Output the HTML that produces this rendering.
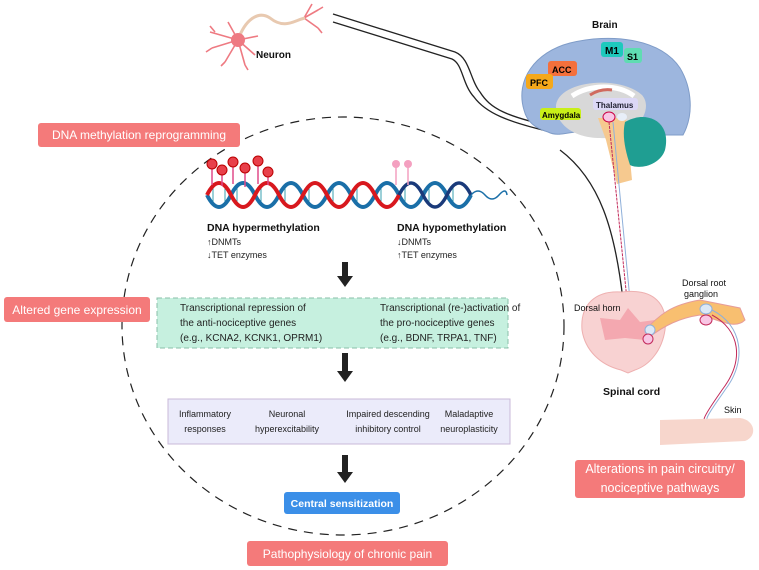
<!DOCTYPE html>
<html><head><meta charset="utf-8"><style>
html,body{margin:0;padding:0;background:#fff}
body{width:759px;height:570px;overflow:hidden;position:relative;font-family:"Liberation Sans",sans-serif}
svg{position:absolute;left:0;top:0}
.lbl{position:absolute;background:#f47a7a;color:#fff;border-radius:3px;font-size:12px;text-align:center;display:flex;align-items:center;justify-content:center}
</style></head><body>
<svg width="759" height="570" viewBox="0 0 759 570" xmlns="http://www.w3.org/2000/svg" font-family="Liberation Sans, sans-serif">
<ellipse cx="343" cy="326" rx="221" ry="209" fill="none" stroke="#222" stroke-width="1.2" stroke-dasharray="9,7"/>
<path d="M333,14 L455,52 C470,58 470,80 480,92 C490,108 505,117 560,128" fill="none" stroke="#222" stroke-width="1.3"/>
<path d="M333,22 L452,59 C463,64 462,84 474,97 C485,112 505,122 560,134" fill="none" stroke="#222" stroke-width="1.3"/>
<path d="M560,150 C600,180 615,230 623,300" fill="none" stroke="#222" stroke-width="1.3"/>
<g stroke="#ee7a82" stroke-width="1.6" fill="none">
<path d="M238,40 L210,32 M238,40 L212,48 M238,40 L225,62 M238,40 L245,65 M238,40 L255,55 M238,40 L228,22 M238,40 L258,36 M215,32 l-5,-6 M212,48 l-6,4 M225,62 l-4,4 M245,65 l3,5"/>
<path d="M304,18 L318,10 M304,18 L318,28 M304,18 L312,4 M318,10 l5,-3 M318,28 l4,5" />
</g>
<path d="M238,40 C245,20 258,10 270,18 C285,30 295,20 305,18" fill="none" stroke="#e8c9b0" stroke-width="3"/>
<circle cx="238" cy="40" r="7" fill="#ee7a82"/>
<text x="256" y="58" font-size="10" font-weight="bold" fill="#111">Neuron</text>
<text x="592" y="28" font-size="10" font-weight="bold" fill="#111">Brain</text>
<path d="M524,110 C515,80 535,52 570,43 C610,33 660,38 680,68 C692,88 694,115 683,135 L650,135 L600,130 C570,130 560,138 548,132 C535,128 527,122 524,110Z" fill="#9db6de" stroke="#7f9cc8"/>
<path d="M556,105 C560,80 620,75 642,95 C655,110 635,140 600,138 C575,138 555,125 556,105Z" fill="#d8d8d8"/>
<path d="M572,96 C590,84 618,84 634,96" fill="none" stroke="#fff" stroke-width="5"/>
<path d="M590,95 C598,90 605,89 612,90" fill="none" stroke="#d06a5e" stroke-width="3"/>
<path d="M598,118 L626,118 L632,180 L617,184 L606,140Z" fill="#f6c98f"/>
<path d="M625,122 C645,110 672,120 665,150 C660,165 640,170 630,165 C625,150 622,135 625,122Z" fill="#1f9e92"/>
<ellipse cx="609" cy="117" rx="6" ry="5" fill="#f8c6e4" stroke="#c04"/>
<ellipse cx="622" cy="117" rx="5" ry="4" fill="#e8eef8"/>
<rect x="601" y="42" width="22" height="15" rx="3" fill="#1ec9bd"/><text x="605" y="54" font-size="10" font-weight="bold">M1</text>
<rect x="624" y="48" width="18" height="15" rx="3" fill="#5fdcb2"/><text x="627" y="60" font-size="9" font-weight="bold">S1</text>
<rect x="548" y="61" width="29" height="15" rx="3" fill="#f4703c"/><text x="552" y="73" font-size="9" font-weight="bold">ACC</text>
<rect x="526" y="74" width="27" height="15" rx="3" fill="#f5a81a"/><text x="530" y="86" font-size="9" font-weight="bold">PFC</text>
<rect x="540" y="108" width="41" height="12" rx="3" fill="#c9ef18"/><text x="542" y="118" font-size="8" font-weight="bold">Amygdala</text>
<rect x="593" y="98" width="45" height="12" rx="3" fill="#dcd8f6"/><text x="596" y="108" font-size="8" font-weight="bold" fill="#223">Thalamus</text>
<path d="M609,122 L627,300 C628,310 628,315 632,322" fill="none" stroke="#c22a5a" stroke-width="1" stroke-dasharray="3,1"/>
<path d="M613,122 L630,300 C631,310 635,312 642,318" fill="none" stroke="#8fb0da" stroke-width="1"/>
<path d="M622,292 C655,288 668,305 665,330 C662,350 650,365 635,370 L628,373 L621,370 C600,365 585,350 582,330 C580,305 595,290 622,292Z" fill="#f8d2d2" stroke="#eeb0b0"/>
<path d="M600,318 L620,320 L628,308 L640,322 L655,320 L645,340 L625,338 L605,340Z" fill="#f4a8b0"/>
<path d="M645,330 C660,315 670,305 700,300 L740,308 L745,320 C735,330 720,320 700,315 C680,318 665,325 648,338" fill="#f8bf70" stroke="#e69c9a"/>
<ellipse cx="706" cy="309" rx="6" ry="5" fill="#dce8f6" stroke="#8fb0da"/>
<ellipse cx="706" cy="320" rx="6" ry="5" fill="#f8c6e4" stroke="#c22a5a"/>
<circle cx="650" cy="330" r="5" fill="#dce8f6" stroke="#8fb0da"/>
<circle cx="648" cy="339" r="5" fill="#f8c6e4" stroke="#c22a5a"/>
<path d="M712,315 C740,330 745,360 722,390 C705,415 700,420 705,432" fill="none" stroke="#c22a5a" stroke-width="1"/>
<path d="M712,310 C742,325 748,360 725,390 C708,415 702,420 710,428" fill="none" stroke="#8fb0da" stroke-width="1"/>
<path d="M660,420 L740,418 C755,420 758,436 745,441 L660,445 Z" fill="#f7d6cc"/>
<text x="574" y="311" font-size="9" fill="#111">Dorsal horn</text>
<text x="682" y="286" font-size="9" fill="#111">Dorsal root</text>
<text x="684" y="297" font-size="9" fill="#111">ganglion</text>
<text x="603" y="395" font-size="10.5" font-weight="bold" fill="#111">Spinal cord</text>
<text x="724" y="413" font-size="9" fill="#111">Skin</text>
<g stroke="#3aa0b0" stroke-width="1">
<path d="M213,185v20M225,187v16M237,185v20M261,185v20M285,185v20M309,185v20M333,185v20M357,185v20M381,185v20M405,185v20M429,187v16M453,187v16"/>
</g>
<path d="M207,195 Q219,219 231,195 T255,195 T279,195 T303,195 T327,195 T351,195 T375,195 T399,195 T423,195 T447,195 T471,195" fill="none" stroke="#1a6fa8" stroke-width="4"/>
<path d="M207,195 Q219,171 231,195 T255,195 T279,195 T303,195 T327,195 T351,195 T375,195 T399,195" fill="none" stroke="#d8181e" stroke-width="4"/>
<path d="M399,195 Q411,171 423,195 T447,195 T471,195" fill="none" stroke="#1a3a7a" stroke-width="3.5"/>
<path d="M471,195 Q478,187 485,195 T499,195 T507,195" fill="none" stroke="#1a6fa8" stroke-width="1.5"/>
<g stroke="#e04b8a" stroke-width="1.5"><path d="M212,165v20M222,172v14M233,164v20M245,169v18M258,162v22M268,173v12"/></g>
<g fill="#e8404a" stroke="#b00"><circle cx="212" cy="164" r="5"/><circle cx="222" cy="170" r="5"/><circle cx="233" cy="162" r="5"/><circle cx="245" cy="168" r="5"/><circle cx="258" cy="161" r="5"/><circle cx="268" cy="172" r="5"/></g>
<g stroke="#f4a0c0" stroke-width="1.5"><path d="M396,165v20M408,165v20"/></g>
<circle cx="396" cy="164" r="4" fill="#f4a0c0"/><circle cx="408" cy="164" r="4" fill="#f4a0c0"/>
<text x="207" y="231" font-size="10.5" font-weight="bold" fill="#111">DNA hypermethylation</text>
<text x="207" y="245" font-size="9" fill="#222">↑DNMTs</text>
<text x="207" y="258" font-size="9" fill="#222">↓TET enzymes</text>
<text x="397" y="231" font-size="10.5" font-weight="bold" fill="#111">DNA hypomethylation</text>
<text x="397" y="245" font-size="9" fill="#222">↓DNMTs</text>
<text x="397" y="258" font-size="9" fill="#222">↑TET enzymes</text>
<g fill="#222"><path d="M342,262h6v14h5l-8,11l-8,-11h5z"/><path d="M342,353h6v18h5l-8,11l-8,-11h5z"/><path d="M342,455h6v17h5l-8,11l-8,-11h5z"/></g>
<rect x="157" y="298" width="351" height="50" fill="#c6f0df" stroke="#8abfa8" stroke-dasharray="5,3"/>
<text font-size="10" fill="#222"><tspan x="180" y="311">Transcriptional repression of</tspan><tspan x="180" y="326">the anti-nociceptive genes</tspan><tspan x="180" y="341">(e.g., KCNA2, KCNK1, OPRM1)</tspan></text>
<text font-size="10" fill="#222"><tspan x="380" y="311">Transcriptional (re-)activation of</tspan><tspan x="380" y="326">the pro-nociceptive genes</tspan><tspan x="380" y="341">(e.g., BDNF, TRPA1, TNF)</tspan></text>
<rect x="168" y="399" width="342" height="45" fill="#ebebfa" stroke="#c9b8d8"/>
<g font-size="9" fill="#222" text-anchor="middle">
<text x="205" y="417">Inflammatory</text><text x="205" y="432">responses</text>
<text x="287" y="417">Neuronal</text><text x="287" y="432">hyperexcitability</text>
<text x="388" y="417">Impaired descending</text><text x="388" y="432">inhibitory control</text>
<text x="469" y="417">Maladaptive</text><text x="469" y="432">neuroplasticity</text>
</g>
<rect x="284" y="492" width="116" height="22" rx="3" fill="#3b8fe8"/>
<text x="342" y="507" font-size="10.5" font-weight="bold" fill="#fff" text-anchor="middle">Central sensitization</text>
</svg>
<div class="lbl" style="left:38px;top:123px;width:202px;height:24px">DNA methylation reprogramming</div>
<div class="lbl" style="left:4px;top:297px;width:146px;height:25px">Altered gene expression</div>
<div class="lbl" style="left:247px;top:541px;width:201px;height:25px">Pathophysiology of chronic pain</div>
<div class="lbl" style="left:575px;top:460px;width:170px;height:38px;line-height:19px;font-size:12.5px">Alterations in pain circuitry/<br>nociceptive pathways</div>
</body></html>
